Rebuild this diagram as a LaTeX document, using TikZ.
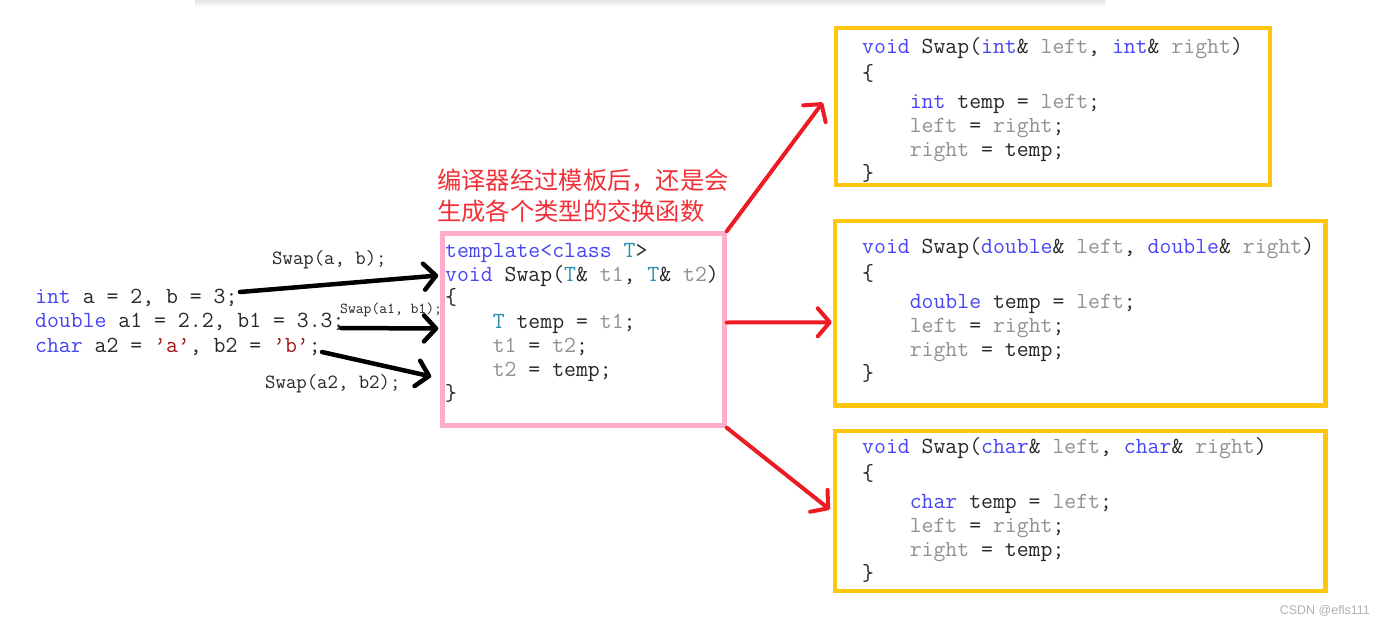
\documentclass[tikz,border=0pt]{standalone}
\usepackage{fontspec}
\newfontfamily\cjk{Noto Sans CJK SC}
\newfontfamily\wmfont{Liberation Sans}
\usetikzlibrary{arrows.meta}

\definecolor{kwblue}{RGB}{70,70,245}
\definecolor{idgray}{RGB}{145,145,145}
\definecolor{tyteal}{RGB}{43,145,175}
\definecolor{chred}{RGB}{163,21,21}
\definecolor{codetxt}{RGB}{40,40,40}
\definecolor{boxpink}{RGB}{255,174,201}
\definecolor{boxgold}{RGB}{255,198,14}
\definecolor{arrred}{RGB}{237,28,36}
\definecolor{notered}{RGB}{242,48,56}

\newcommand\kw[1]{\textcolor{kwblue}{#1}}
\newcommand\idf[1]{\textcolor{idgray}{#1}}
\newcommand\tyn[1]{\textcolor{tyteal}{#1}}
\newcommand\chl[1]{\textcolor{chred}{#1}}
\newcommand\codeind{\hphantom{xxxx}}
\newcommand\topstrut{\rule{0pt}{20pt}}
\newcommand\codefont{\ttfamily\fontsize{23.1}{23.8}\selectfont\frenchspacing}

\begin{document}
\begin{tikzpicture}[x=1pt, y=-1pt,
  code/.style={font=\codefont, text=codetxt, inner sep=0pt, anchor=north west, align=left},
  calllabel/.style={font=\ttfamily\fontsize{20.2}{22}\selectfont\frenchspacing, text=codetxt, inner sep=0pt, anchor=west},
  pinkbox/.style={draw=boxpink, line width=4.5pt, inner sep=0pt},
  goldbox/.style={draw=boxgold, line width=4.5pt, inner sep=0pt},
  callarrow/.style={-{Straight Barb[length=12pt,width=26pt,round]}, line width=4.5pt, line cap=round, black},
  genarrow/.style={-{Straight Barb[length=12pt,width=28pt,round]}, line width=4pt, line cap=round, arrred}]
\useasboundingbox (0,0) rectangle (1386,626);
\fill[white] (0,0) rectangle (1386,626);
\shade[top color=gray!22, bottom color=white] (195,0) rectangle (1105,7);

% calling code
\node[code, font=\ttfamily\fontsize{23.1}{24.5}\selectfont\frenchspacing] (callers) at (35,283) {\topstrut\kw{int} a = 2, b = 3;\\
\kw{double} a1 = 2.2, b1 = 3.3;\\
\kw{char} a2 = \chl{’a’}, b2 = \chl{’b’};};
\node[calllabel] (callint) at (272,260) {Swap(a, b);};
\node[calllabel, font=\ttfamily\fontsize{15.2}{16}\selectfont\frenchspacing] (calldbl) at (340,310) {Swap(a1, b1);};
\node[calllabel] (callchr) at (265,384) {Swap(a2, b2);};

% template
\node[anchor=west, inner sep=0pt, align=left, text=notered, font=\cjk\fontsize{24.3}{31}\selectfont] (note) at (437,196) {编译器经过模板后，还是会\\生成各个类型的交换函数};
\node[code] (tmplcode) at (445,237) {\topstrut\kw{template<class} \tyn{T}>\\
\kw{void} Swap(\tyn{T}\& \idf{t1}, \tyn{T}\& \idf{t2})\\
\{\\
\codeind\tyn{T} temp = \idf{t1};\\
\codeind\idf{t1} = \idf{t2};\\
\codeind\idf{t2} = temp;\\
\}};
\node[pinkbox, minimum width=282pt, minimum height=192pt] (tmpl) at (583.5,329.5) {};

% generated functions
\node[code] (intcode) at (862,33) {\topstrut\kw{void} Swap(\kw{int}\& \idf{left}, \kw{int}\& \idf{right})\\[3pt]
\{\\[5pt]
\codeind\kw{int} temp = \idf{left};\\
\codeind\idf{left} = \idf{right};\\
\codeind\idf{right} = temp;\\
\}};
\node[code] (dblcode) at (862,233) {\topstrut\kw{void} Swap(\kw{double}\& \idf{left}, \kw{double}\& \idf{right})\\[3pt]
\{\\[5pt]
\codeind\kw{double} temp = \idf{left};\\
\codeind\idf{left} = \idf{right};\\
\codeind\idf{right} = temp;\\
\}};
\node[code] (chrcode) at (862,433) {\topstrut\kw{void} Swap(\kw{char}\& \idf{left}, \kw{char}\& \idf{right})\\[3pt]
\{\\[5pt]
\codeind\kw{char} temp = \idf{left};\\
\codeind\idf{left} = \idf{right};\\
\codeind\idf{right} = temp;\\
\}};
\fill[white] (830,187.5) rectangle (1280,200);
\node[goldbox, minimum width=434pt, minimum height=157pt] (intbox) at (1053,106.5) {};
\node[goldbox, minimum width=490.5pt, minimum height=184.5pt] (dblbox) at (1080.25,313.25) {};
\node[goldbox, minimum width=490.5pt, minimum height=160pt] (chrbox) at (1080.25,511) {};

% arrows
\coordinate (fromint) at (240,292);
\coordinate (fromdbl) at (341,328);
\coordinate (fromchr) at (322,352);
\draw[callarrow] (fromint) -- ([xshift=-2pt,yshift=54pt]tmpl.west);
\draw[callarrow] (fromdbl) -- ([xshift=-2pt,yshift=1pt]tmpl.west);
\draw[callarrow] (fromchr) -- ([xshift=-9pt,yshift=-47pt]tmpl.west);
\draw[genarrow] (tmpl.north east) -- ([xshift=-11pt,yshift=4pt]intbox.west);
\draw[genarrow] ([yshift=7pt]tmpl.east) -- ([xshift=-1pt,yshift=-9pt]dblbox.west);
\draw[genarrow] (tmpl.south east) -- ([xshift=-3pt,yshift=1.5pt]chrbox.west);

\node[anchor=east, inner sep=0pt, text=gray!60, font=\wmfont\fontsize{12.5}{14}\selectfont] (mark) at (1370,611) {CSDN @efls111};
\end{tikzpicture}
\end{document}
